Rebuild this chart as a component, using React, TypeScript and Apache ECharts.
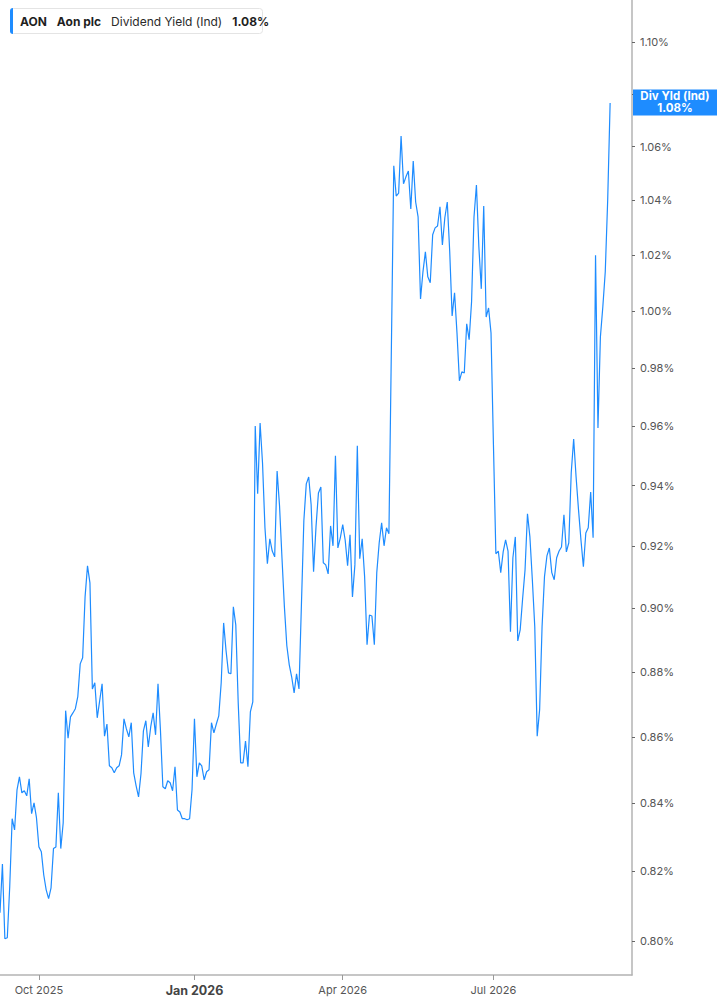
import React, { useEffect, useRef } from "react";
import * as echarts from "echarts";

// trading sessions on the x axis
const startDate = "2025-09-09";
const sessionCount = 261;
const holidays = [
  "2025-11-27", "2025-12-25", "2026-01-01", "2026-01-19", "2026-02-16",
  "2026-04-03", "2026-05-25", "2026-06-19", "2026-07-03", "2026-09-07",
];
const monthNames = ["Jan", "Feb", "Mar", "Apr", "May", "Jun", "Jul", "Aug", "Sep", "Oct", "Nov", "Dec"];
const labelMonths = [0, 3, 6, 9];

// y axis (log scale) tick labels
const yTicks = [0.8, 0.82, 0.84, 0.86, 0.88, 0.9, 0.92, 0.94, 0.96, 0.98, 1.0, 1.02, 1.04, 1.06, 1.08, 1.1];
const yMin = 0.7904;
const yMax = 1.1165;

const ticker = "AON";
const company = "Aon plc";
const metric = "Dividend Yield (Ind)";
const shortMetric = "Div Yld (Ind)";

// dividend yield, %
const divYield = [
  0.808, 0.8221, 0.8006, 0.8009, 0.8155, 0.8354, 0.8321, 0.844, 0.8479, 0.8431,
  0.8437, 0.8422, 0.8473, 0.8369, 0.8401, 0.8357, 0.8271, 0.8257, 0.8189, 0.8146,
  0.8121, 0.8152, 0.8266, 0.8271, 0.8431, 0.8266, 0.8342, 0.868, 0.8596, 0.8661,
  0.8673, 0.8686, 0.8723, 0.8825, 0.8844, 0.9037, 0.9137, 0.9082, 0.8747, 0.8766,
  0.8658, 0.871, 0.8763, 0.8602, 0.8639, 0.8512, 0.8506, 0.8491, 0.8506, 0.8512,
  0.8545, 0.8655, 0.8624, 0.86, 0.8643, 0.8491, 0.8452, 0.8419, 0.8488, 0.8618,
  0.8649, 0.8569, 0.863, 0.8673, 0.8606, 0.8763, 0.8621, 0.8449, 0.8443, 0.8467,
  0.8461, 0.8437, 0.8509, 0.838, 0.8374, 0.8354, 0.8354, 0.8351, 0.8354, 0.844,
  0.8655, 0.8479, 0.8521, 0.8512, 0.847, 0.8494, 0.85, 0.8643, 0.8612, 0.8639,
  0.8664, 0.8766, 0.8954, 0.8866, 0.8797, 0.8794, 0.9005, 0.8948, 0.8704, 0.8521,
  0.8521, 0.8587, 0.8509, 0.8676, 0.8707, 0.9601, 0.9373, 0.9611, 0.9476, 0.9261,
  0.9144, 0.9225, 0.9185, 0.9166, 0.9449, 0.9333, 0.9163, 0.9005, 0.8882, 0.8822,
  0.8784, 0.8735, 0.8794, 0.8747, 0.9011, 0.9284, 0.9406, 0.9429, 0.9337, 0.9118,
  0.9264, 0.9376, 0.9396, 0.9147, 0.914, 0.9111, 0.9267, 0.9202, 0.95, 0.9195,
  0.9228, 0.9271, 0.9221, 0.9137, 0.9238, 0.9037, 0.914, 0.9534, 0.916, 0.9225,
  0.9102, 0.8885, 0.8979, 0.8976, 0.8885, 0.9115, 0.9212, 0.9277, 0.9202, 0.9261,
  0.9241, 0.9864, 1.0528, 1.0416, 1.0427, 1.064, 1.0461, 1.0487, 1.0509, 1.0368,
  1.0546, 1.0394, 1.0339, 1.0043, 1.014, 1.0212, 1.0122, 1.0101, 1.0274, 1.0299,
  1.0306, 1.0376, 1.0237, 1.0336, 1.0394, 1.0215, 0.9983, 1.0065, 0.9923, 0.9756,
  0.9787, 0.9783, 0.9955, 0.9899, 1.0033, 1.0339, 1.0457, 1.023, 1.0079, 1.0379,
  0.9979, 1.0011, 0.9923, 0.9537, 0.9176, 0.9185, 0.9115, 0.9182, 0.9221, 0.9185,
  0.8926, 0.9163, 0.9231, 0.8897, 0.8932, 0.9031, 0.9124, 0.9307, 0.9231, 0.9092,
  0.8942, 0.8602, 0.8683, 0.8942, 0.9102, 0.9169, 0.9195, 0.9115, 0.9092, 0.9163,
  0.9185, 0.9198, 0.9304, 0.9182, 0.9212, 0.9443, 0.9557, 0.9429, 0.932, 0.9221,
  0.9134, 0.9244, 0.9261, 0.9379, 0.9228, 1.02, 0.9594, 0.9909, 1.0015, 1.014,
  1.0401, 1.0765,
];

const BLUE = "#1e8cff";

function tradingDays(start: string, n: number) {
  const out: string[] = [];
  const d = new Date(start + "T00:00:00Z");
  while (out.length < n) {
    const wd = d.getUTCDay();
    const iso = d.toISOString().slice(0, 10);
    if (wd !== 0 && wd !== 6 && !holidays.includes(iso)) out.push(iso);
    d.setUTCDate(d.getUTCDate() + 1);
  }
  return out;
}

const App = () => {
  const chartRef = useRef<HTMLDivElement>(null);

  useEffect(() => {
    const chart = echarts.init(chartRef.current, null, { renderer: "svg" });

    const dates = tradingDays(startDate, sessionCount);
    const month = (s: string) => Number(s.slice(5, 7)) - 1;
    // first session of Jan / Apr / Jul / Oct
    const isLabel = (i: number) =>
      i > 0 && month(dates[i]) !== month(dates[i - 1]) && labelMonths.includes(month(dates[i]));

    const last = divYield[divYield.length - 1];
    const logTicks = yTicks.map((v) => Math.log(v));

    const option = {
      animation: false,
      textStyle: { fontFamily: "Inter" },
      grid: { left: 0, right: 85, top: 0, bottom: 30 },
      graphic: [
        {
          type: "rect",
          shape: { x: 10.5, y: 8.5, width: 252, height: 25, r: 3 },
          style: { fill: "#fff", stroke: "#e4e4e4", lineWidth: 1 },
          z: 10,
        },
        {
          type: "rect",
          shape: { x: 10, y: 8, width: 3, height: 26, r: [3, 0, 0, 3] },
          style: { fill: BLUE },
          z: 11,
        },
        {
          type: "text",
          x: 20,
          y: 21,
          z: 11,
          style: {
            text: `{b|${ticker}}   {b|${company}}   {n|${metric}}   {b|${last.toFixed(2)}%}`,
            verticalAlign: "middle",
            rich: {
              b: { fontFamily: "Inter", fontSize: 12, fontWeight: "bold", fill: "#1f1f1f" },
              n: { fontFamily: "Inter", fontSize: 12, fill: "#2a2a2a" },
            },
          },
        },
      ],
      xAxis: {
        type: "category",
        data: dates,
        boundaryGap: false,
        axisLine: { onZero: false, lineStyle: { color: "#b3b3b3", width: 1.5 } },
        axisTick: {
          interval: (i: number) => isLabel(i),
          length: 5,
          lineStyle: { color: "#999" },
        },
        axisLabel: {
          interval: (i: number) => isLabel(i),
          margin: 9,
          color: "#555",
          fontSize: 11,
          formatter: (v: string) => {
            const m = month(v);
            const txt = `${monthNames[m]} ${v.slice(0, 4)}`;
            return m === 0 ? `{y|${txt}}` : txt;
          },
          rich: {
            y: { fontSize: 12.5, fontWeight: "bold", color: "#444", fontFamily: "Inter" },
          },
        },
        splitLine: { show: false },
      },
      yAxis: {
        type: "value",
        position: "right",
        min: Math.log(yMin),
        max: Math.log(yMax),
        axisLine: { show: true, onZero: false, lineStyle: { color: "#b3b3b3", width: 1.5 } },
        axisTick: {
          show: true,
          customValues: logTicks,
          length: 3,
          lineStyle: { color: "#666" },
        },
        axisLabel: {
          customValues: logTicks,
          margin: 8,
          color: "#555",
          fontSize: 11,
          formatter: (v: number) => Math.exp(v).toFixed(2) + "%",
        },
        splitLine: { show: false },
      },
      series: [
        {
          type: "line",
          data: divYield.map((v) => Math.log(v)),
          showSymbol: false,
          lineStyle: { color: BLUE, width: 1.2 },
          itemStyle: { color: BLUE },
          markLine: {
            silent: true,
            symbol: "none",
            lineStyle: { color: "rgba(0,0,0,0)", width: 0 },
            data: [{ yAxis: Math.log(last) }],
            label: {
              show: true,
              position: "end",
              distance: 1,
              offset: [0, -11],
              backgroundColor: BLUE,
              padding: [1, 0, 1, 0],
              formatter: `{t|${shortMetric}}\n{t|${last.toFixed(2)}%}`,
              rich: {
                t: {
                  width: 84,
                  align: "center",
                  color: "#fff",
                  fontSize: 11.5,
                  fontWeight: "bold",
                  lineHeight: 12,
                  fontFamily: "Inter",
                },
              },
            },
          },
        },
      ],
    };

    chart.setOption(option);

    return () => {
      chart.dispose();
    };
  }, []);

  return (
    <div
      ref={chartRef}
      style={{ position: "absolute", left: 0, top: 0, width: 717, height: 1005, background: "#fff" }}
    ></div>
  );
};

export default App;
